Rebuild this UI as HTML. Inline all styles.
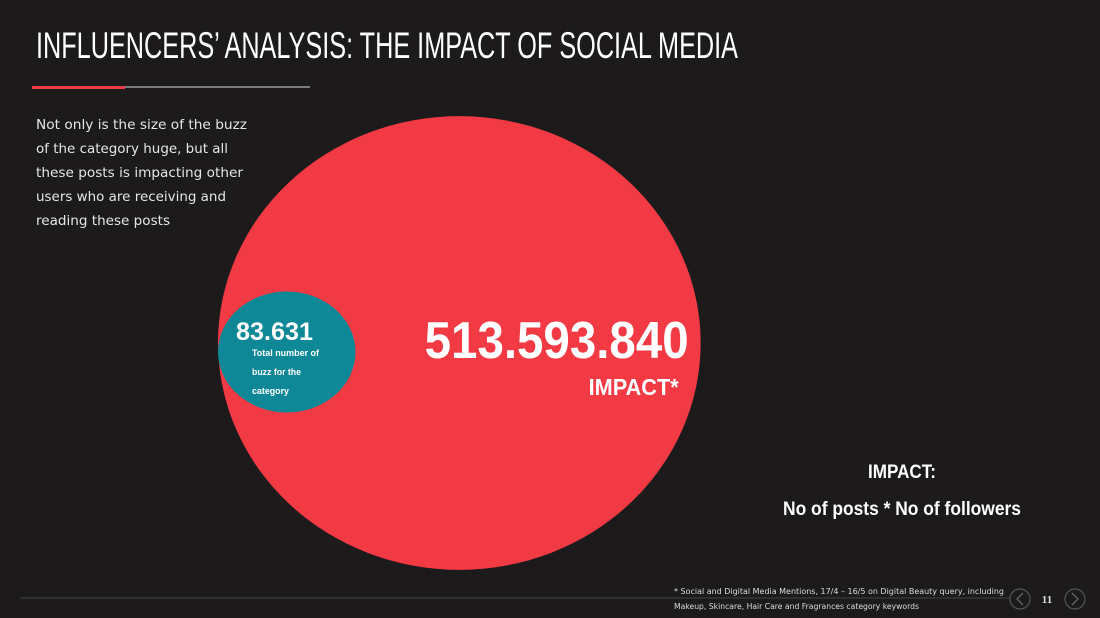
<!DOCTYPE html>
<html><head><meta charset="utf-8"><style>
html,body{margin:0;padding:0;background:#1c1a1b;}
svg{display:block;}
</style></head><body>
<svg width="1100" height="618" viewBox="0 0 1100 618">
<rect x="0" y="0" width="1100" height="618" fill="#1c1a1b"/>
<text x="36" y="58" fill="#fff" font-family="Liberation Sans, sans-serif" font-size="37" textLength="702" lengthAdjust="spacingAndGlyphs">INFLUENCERS’ ANALYSIS: THE IMPACT OF SOCIAL MEDIA</text>
<rect x="32" y="86" width="93" height="3" fill="#f03a45"/>
<rect x="125" y="86" width="185" height="2" fill="#7a7a7a"/>
<g fill="#e6e6e6" font-family="DejaVu Sans, sans-serif" font-size="13.5">
<text x="36" y="129" textLength="211" lengthAdjust="spacingAndGlyphs">Not only is the size of the buzz</text>
<text x="36" y="153" textLength="192" lengthAdjust="spacingAndGlyphs">of the category huge, but all</text>
<text x="36" y="177" textLength="207" lengthAdjust="spacingAndGlyphs">these posts is impacting other</text>
<text x="36" y="201" textLength="190" lengthAdjust="spacingAndGlyphs">users who are receiving and</text>
<text x="36" y="225" textLength="134" lengthAdjust="spacingAndGlyphs">reading these posts</text>
</g>
<g id="bubbles"></g>
<g font-family="Liberation Sans, sans-serif" font-weight="bold" fill="#fff" text-anchor="middle">
<text x="902" y="478" font-size="19" textLength="68" lengthAdjust="spacingAndGlyphs">IMPACT:</text>
<text x="902" y="515" font-size="19" textLength="238" lengthAdjust="spacingAndGlyphs">No of posts * No of followers</text>
</g>
<line x1="20" y1="598" x2="1010" y2="598" stroke="#444" stroke-width="1"/>
<g fill="#ddd" font-family="DejaVu Sans, sans-serif" font-size="8">
<text x="674" y="594" textLength="330" lengthAdjust="spacingAndGlyphs">* Social and Digital Media Mentions,  17/4 – 16/5 on Digital Beauty query, including</text>
<text x="674" y="609" textLength="245" lengthAdjust="spacingAndGlyphs">Makeup, Skincare, Hair Care and Fragrances category keywords</text>
</g>
<g><circle cx="1020" cy="599" r="10" fill="none" stroke="#555" stroke-width="1.2"/><path d="M1023 593 L1017 599 L1023 605" fill="none" stroke="#666" stroke-width="1.3"/></g>
<text x="1047" y="603" fill="#ddd" font-family="Liberation Serif, serif" font-weight="bold" font-size="11" text-anchor="middle">11</text>
<g><circle cx="1075" cy="599" r="10" fill="none" stroke="#555" stroke-width="1.2"/><path d="M1072 593 L1078 599 L1072 605" fill="none" stroke="#666" stroke-width="1.3"/></g>
</svg>
<script>
const bubbleNames = ["impact", "buzz"];
const bubbleValues = [513593840, 83631];
const bubbleLabels = ["513.593.840", "83.631"];
const bubbleColors = ["#f23a45", "#0e8797"];
const NS = "http://www.w3.org/2000/svg";
const g = document.getElementById("bubbles");
const leftEdge = 218, cy0 = 343;
function rScale(v){ return 2.063 * Math.pow(Math.log10(v), 2.2); }
function mk(tag, attrs){ const e = document.createElementNS(NS, tag); for (const k in attrs) e.setAttribute(k, attrs[k]); return e; }
const radii = bubbleValues.map(rScale);
bubbleValues.forEach((v, i) => {
  const r = radii[i];
  const cx = leftEdge + r;
  const cy = i === 0 ? cy0 : cy0 + 9;
  const el = mk("ellipse", {cx: cx, cy: cy, rx: r, ry: r * (i === 0 ? 0.94 : 0.88), fill: bubbleColors[i]});
  
  
  g.appendChild(el);
});
{
  const r = radii[0], cx = leftEdge + r;
  const t = mk("text", {x: cx + r - 12, y: 358, "text-anchor": "end", fill: "#fff", "font-family": "Liberation Sans, sans-serif", "font-weight": "bold", "font-size": "52", textLength: "264", lengthAdjust: "spacingAndGlyphs"});
  t.textContent = bubbleLabels[0];
  
  
  g.appendChild(t);
  const t2 = mk("text", {x: cx + r - 22, y: 395, "text-anchor": "end", fill: "#fff", "font-family": "Liberation Sans, sans-serif", "font-weight": "bold", "font-size": "23", textLength: "90", lengthAdjust: "spacingAndGlyphs"});
  t2.textContent = "IMPACT*";
  
  
  g.appendChild(t2);
}
{
  const t = mk("text", {x: 236, y: 340, fill: "#fff", "font-family": "Liberation Sans, sans-serif", "font-weight": "bold", "font-size": "25", textLength: "77", lengthAdjust: "spacingAndGlyphs"});
  t.textContent = bubbleLabels[1];
  
  
  g.appendChild(t);
  const lines = [["Total number of", 67], ["buzz for the", 49], ["category", 37]];
  lines.forEach((l, i) => {
    const tl = mk("text", {x: 252, y: 356 + i * 19, fill: "#fff", "font-family": "Liberation Sans, sans-serif", "font-weight": "bold", "font-size": "9", textLength: l[1], lengthAdjust: "spacingAndGlyphs"});
    tl.textContent = l[0];
    
    
    g.appendChild(tl);
  });
}
</script>
</body></html>
